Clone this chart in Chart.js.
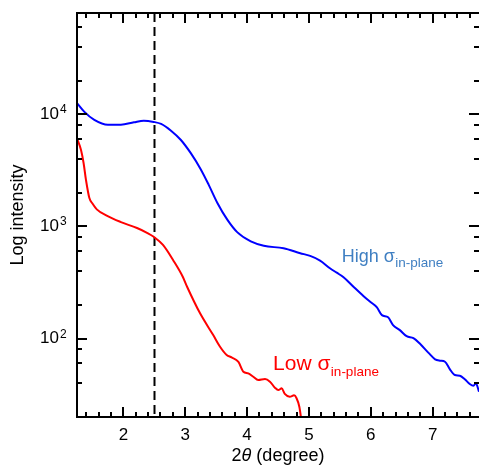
<!DOCTYPE html>
<html>
<head>
<meta charset="utf-8">
<title>Log intensity vs 2θ</title>
<script src="https://cdn.jsdelivr.net/npm/chart.js@4/dist/chart.umd.min.js"></script>
<style>
  html, body { margin: 0; padding: 0; background: #fff; }
  canvas { display: block; }
</style>
</head>
<body>
<canvas id="chart" width="479" height="470"></canvas>
<script>
// Scattering profiles, 2θ in degrees, intensity in counts (log scale)
const highX = [1.25, 1.37, 1.53, 1.75, 1.96, 2.17, 2.33, 2.49, 2.61, 2.77, 2.93, 3.09, 3.25, 3.38, 3.52, 3.68, 3.84, 4.06, 4.27, 4.59,
               4.86, 5.02, 5.18, 5.34, 5.45, 5.56, 5.72, 5.88, 5.99, 6.10, 6.18, 6.28, 6.36, 6.47, 6.58, 6.69, 6.80, 6.93, 7.04, 7.12,
               7.20, 7.28, 7.36, 7.44, 7.52, 7.60, 7.66, 7.70, 7.75];
const highY = [12600, 10500, 8900, 8050, 8070, 8480, 8770, 8550, 8200, 7140, 5900, 4500, 3240, 2350, 1620, 1150, 890, 736, 673, 638,
               577, 546, 496, 424, 387, 352, 290, 240, 213, 190, 162, 155, 132, 119, 105, 101, 89.5, 75, 65.4, 63.6,
               62.2, 53.2, 47.3, 46.7, 43.4, 39.4, 38, 40, 33.6];

const lowX = [1.25, 1.315, 1.357, 1.395, 1.45, 1.50, 1.57, 1.73, 1.95, 2.22, 2.39, 2.49, 2.64, 2.81, 2.96, 3.03, 3.24, 3.45, 3.56, 3.67,
              3.75, 3.86, 3.94, 4.02, 4.10, 4.18, 4.29, 4.37, 4.45, 4.505, 4.56, 4.61, 4.69, 4.76, 4.80, 4.845, 4.885];
const lowY = [6100, 4800, 3660, 2600, 1790, 1600, 1420, 1250, 1100, 968, 874, 810, 684, 495, 356, 290, 168, 108, 85, 71.4,
              68, 62, 50.7, 49, 45.7, 42.7, 43.6, 41.3, 36.5, 34.8, 36, 32.1, 30.3, 31.2, 29.4, 24.7, 17.5];

const xTicks = [2, 3, 4, 5, 6, 7];
const yTicks = [100, 1000, 10000];
const yTickBase = '10';
const yTickExponents = ['2', '3', '4'];
const markerX = 2.5;

const FONT = "'Liberation Sans', Arial, Helvetica, sans-serif";
Chart.defaults.font.family = FONT;
Chart.defaults.color = '#000';

// Frame with inward major/minor ticks on all four sides, plus the dashed marker
const frameTicks = {
  id: 'frameTicks',
  beforeDatasetsDraw(chart) {
    const { ctx, chartArea: a, scales: { x } } = chart;
    const px = Math.round(x.getPixelForValue(markerX)) + 0.5;
    ctx.save();
    ctx.strokeStyle = '#000';
    ctx.lineWidth = 2;
    ctx.setLineDash([9, 5]);
    ctx.beginPath();
    ctx.moveTo(px, a.top);
    ctx.lineTo(px, a.bottom);
    ctx.stroke();
    ctx.restore();
  },
  afterDatasetsDraw(chart) {
    const { ctx, chartArea: a, scales: { x, y } } = chart;
    const right = chart.width;
    ctx.save();
    ctx.strokeStyle = '#000';
    ctx.lineWidth = 2;
    ctx.beginPath();
    ctx.moveTo(a.left, a.bottom + 1);
    ctx.lineTo(a.left, a.top);
    ctx.moveTo(a.left - 1, a.top);
    ctx.lineTo(right, a.top);
    ctx.moveTo(a.left - 1, a.bottom);
    ctx.lineTo(right, a.bottom);
    ctx.stroke();

    ctx.beginPath();
    for (let i = 7; i * 0.2 < x.max + 1e-9; i++) {
      const v = Math.round(i * 2) / 10;
      if (v < x.min) continue;
      const major = Math.abs(v - Math.round(v)) < 1e-6;
      const len = major ? 10 : 5;
      const p = Math.round(x.getPixelForValue(v));
      ctx.moveTo(p, a.bottom);
      ctx.lineTo(p, a.bottom - len);
      ctx.moveTo(p, a.top);
      ctx.lineTo(p, a.top + len);
    }
    for (let d = 1; d <= 1e5; d *= 10) {
      for (const m of [1, 2, 4, 6, 8]) {
        const v = m * d;
        if (v < y.min || v > y.max) continue;
        const len = m === 1 ? 10 : 5;
        const p = Math.round(y.getPixelForValue(v));
        ctx.moveTo(a.left, p);
        ctx.lineTo(a.left + len, p);
        ctx.moveTo(right, p);
        ctx.lineTo(right - len, p);
      }
    }
    ctx.stroke();
    ctx.restore();
  }
};

// Decade exponents beside the "10" tick labels, curve labels with subscripts,
// and the x-axis title with an italic θ
const textLabels = {
  id: 'textLabels',
  afterDraw(chart, args, opts) {
    const { ctx, chartArea: a, scales: { x, y } } = chart;
    ctx.save();
    ctx.textBaseline = 'alphabetic';
    ctx.textAlign = 'left';
    ctx.fillStyle = '#000';
    ctx.font = `12px ${FONT}`;
    yTicks.forEach((v, i) => {
      ctx.fillText(yTickExponents[i], a.left - opts.exponentGap, y.getPixelForValue(v) - 1);
    });

    for (const t of opts.items) {
      const px = x.getPixelForValue(t.x);
      const py = y.getPixelForValue(t.y);
      ctx.fillStyle = t.color;
      ctx.font = `${t.size}px ${FONT}`;
      ctx.fillText(t.main, px, py);
      const w = ctx.measureText(t.main).width;
      ctx.font = `${t.subSize}px ${FONT}`;
      ctx.fillText(t.sub, px + w + 0.5, py + t.subDrop);
    }

    const parts = [
      { s: '2', f: `18px ${FONT}` },
      { s: 'θ', f: `italic 18px ${FONT}` },
      { s: ' (degree)', f: `18px ${FONT}` }
    ];
    let total = 0;
    for (const p of parts) { ctx.font = p.f; p.w = ctx.measureText(p.s).width; total += p.w; }
    let cx = (a.left + a.right) / 2 - total / 2;
    ctx.fillStyle = '#000';
    for (const p of parts) { ctx.font = p.f; ctx.fillText(p.s, cx, opts.titleBaseline); cx += p.w; }
    ctx.restore();
  }
};

new Chart(document.getElementById('chart'), {
  type: 'line',
  data: {
    datasets: [
      {
        label: 'High σin-plane',
        data: highX.map((v, i) => ({ x: v, y: highY[i] })),
        borderColor: '#0000ff',
        borderWidth: 2,
        pointRadius: 0,
        cubicInterpolationMode: 'monotone',
        fill: false
      },
      {
        label: 'Low σin-plane',
        data: lowX.map((v, i) => ({ x: v, y: lowY[i] })),
        borderColor: '#ff0000',
        borderWidth: 2,
        pointRadius: 0,
        cubicInterpolationMode: 'monotone',
        fill: false
      }
    ]
  },
  options: {
    responsive: false,
    animation: false,
    events: [],
    layout: { padding: { top: 13, right: 0, bottom: 0, left: 0 } },
    scales: {
      x: {
        type: 'linear',
        min: 1.25,
        max: 7.75,
        grid: { display: false, drawTicks: false },
        border: { display: false },
        afterBuildTicks: s => { s.ticks = xTicks.map(v => ({ value: v })); },
        afterFit: s => { s.height = 53; s.paddingLeft = 0; s.paddingRight = 0; },
        ticks: { font: { size: 17 }, color: '#000', padding: 8, maxRotation: 0, autoSkip: false }
      },
      y: {
        type: 'logarithmic',
        min: 20,
        max: 80000,
        grid: { display: false, drawTicks: false },
        border: { display: false },
        afterBuildTicks: s => { s.ticks = yTicks.map(v => ({ value: v })); },
        afterFit: s => { s.width = 77; s.paddingTop = 0; s.paddingBottom = 0; },
        ticks: {
          font: { size: 17 },
          color: '#000',
          padding: 18,
          autoSkip: false,
          callback: v => (yTicks.indexOf(v) >= 0 ? yTickBase : '')
        },
        title: {
          display: true,
          text: 'Log intensity',
          font: { size: 18 },
          color: '#000',
          padding: { top: 7, bottom: 0 }
        }
      }
    },
    plugins: {
      legend: { display: false },
      tooltip: { enabled: false },
      textLabels: {
        titleBaseline: 461,
        exponentGap: 17,
        items: [
          { x: 5.53, y: 482, main: 'High σ', sub: 'in-plane', color: '#3f7fc2', size: 18, subSize: 13.5, subDrop: 5 },
          { x: 4.42, y: 52.5, main: 'Low σ', sub: 'in-plane', color: '#ff0000', size: 21, subSize: 13.5, subDrop: 6 }
        ]
      }
    }
  },
  plugins: [frameTicks, textLabels]
});
</script>
</body>
</html>
